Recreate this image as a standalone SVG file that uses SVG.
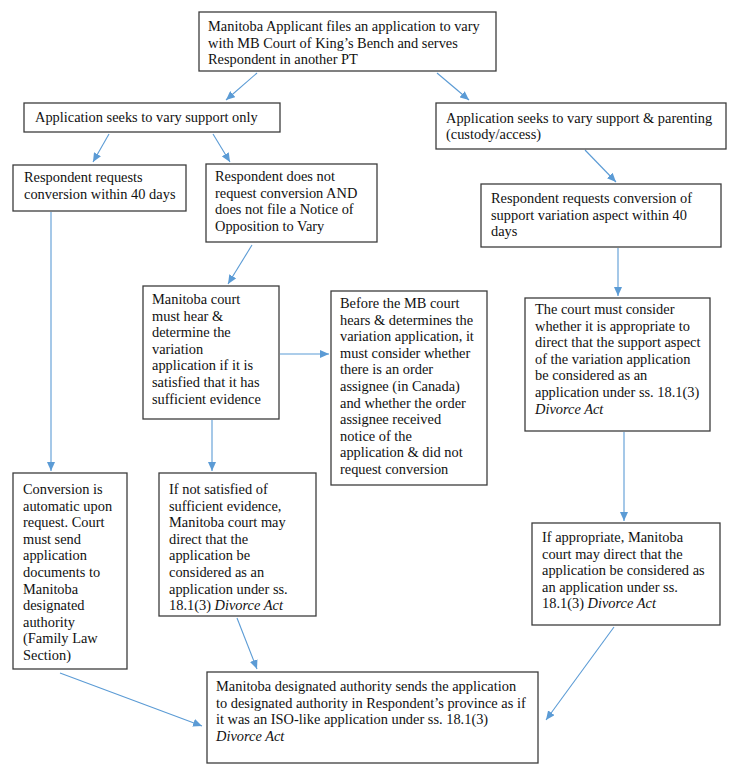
<svg xmlns="http://www.w3.org/2000/svg" width="731" height="775" viewBox="0 0 731 775">
<defs>
<marker id="ah" markerUnits="userSpaceOnUse" markerWidth="10" markerHeight="8" refX="9" refY="4" orient="auto">
<path d="M0,0 L9,4 L0,8 Z" fill="#5b9bd5"/>
</marker>
<style>
rect.box{fill:#ffffff;stroke:#3c3c3c;stroke-width:1.3}
text{font-family:"Liberation Serif","Times New Roman",serif;font-size:14.4px;fill:#111111}
.it{font-style:italic}
#connectors line{stroke:#5b9bd5;stroke-width:1.1;marker-end:url(#ah)}
</style>
</defs>
<rect width="731" height="775" fill="#ffffff"/>
<g id="connectors">
<line x1="257" y1="73" x2="226" y2="100"/>
<line x1="437" y1="73" x2="469" y2="100"/>
<line x1="109" y1="134" x2="93" y2="162"/>
<line x1="213" y1="134" x2="230" y2="162"/>
<line x1="585" y1="150" x2="616" y2="182"/>
<line x1="51" y1="212" x2="51" y2="471"/>
<line x1="252" y1="245" x2="228" y2="284"/>
<line x1="280" y1="354" x2="329" y2="354"/>
<line x1="618" y1="248" x2="618" y2="296"/>
<line x1="212" y1="420" x2="212" y2="471"/>
<line x1="624" y1="432" x2="624" y2="521"/>
<line x1="60" y1="673" x2="202" y2="726"/>
<line x1="237" y1="618" x2="257" y2="669"/>
<line x1="614" y1="627" x2="546" y2="720"/>
</g>
<g id="n-top">
<rect class="box" x="199" y="12" width="297" height="59"/>
<text x="208"><tspan x="208" y="31">Manitoba Applicant files an application to vary</tspan><tspan x="208" y="47.6">with MB Court of King’s Bench and serves</tspan><tspan x="208" y="64.2">Respondent in another PT</tspan></text>
</g>
<g id="n-support-only">
<rect class="box" x="24" y="103" width="256" height="29"/>
<text x="35" y="122">Application seeks to vary support only</text>
</g>
<g id="n-support-parenting">
<rect class="box" x="436" y="103" width="290" height="46"/>
<text><tspan x="446" y="122.5">Application seeks to vary support &amp; parenting</tspan><tspan x="446" y="139">(custody/access)</tspan></text>
</g>
<g id="n-req-conv">
<rect class="box" x="13" y="165" width="173" height="46"/>
<text><tspan x="24" y="182">Respondent requests</tspan><tspan x="24" y="198.6">conversion within 40 days</tspan></text>
</g>
<g id="n-no-req">
<rect class="box" x="206" y="164" width="171" height="78"/>
<text><tspan x="215" y="181">Respondent does not</tspan><tspan x="215" y="197.6">request conversion AND</tspan><tspan x="215" y="214.2">does not file a Notice of</tspan><tspan x="215" y="230.8">Opposition to Vary</tspan></text>
</g>
<g id="n-req-conv-support">
<rect class="box" x="481" y="184" width="240" height="63"/>
<text><tspan x="491" y="203">Respondent requests conversion of</tspan><tspan x="491" y="219.6">support variation aspect within 40</tspan><tspan x="491" y="236.2">days</tspan></text>
</g>
<g id="n-must-hear">
<rect class="box" x="143" y="286" width="136" height="133"/>
<text><tspan x="152" y="304">Manitoba court</tspan><tspan x="152" y="320.6">must hear &amp;</tspan><tspan x="152" y="337.2">determine the</tspan><tspan x="152" y="353.8">variation</tspan><tspan x="152" y="370.4">application if it is</tspan><tspan x="152" y="387">satisfied that it has</tspan><tspan x="152" y="403.6">sufficient evidence</tspan></text>
</g>
<g id="n-before">
<rect class="box" x="331" y="291" width="156" height="194"/>
<text><tspan x="340" y="308">Before the MB court</tspan><tspan x="340" y="324.6">hears &amp; determines the</tspan><tspan x="340" y="341.2">variation application, it</tspan><tspan x="340" y="357.8">must consider whether</tspan><tspan x="340" y="374.4">there is an order</tspan><tspan x="340" y="391">assignee (in Canada)</tspan><tspan x="340" y="407.6">and whether the order</tspan><tspan x="340" y="424.2">assignee received</tspan><tspan x="340" y="440.8">notice of the</tspan><tspan x="340" y="457.4">application &amp; did not</tspan><tspan x="340" y="474">request conversion</tspan></text>
</g>
<g id="n-consider">
<rect class="box" x="525" y="298" width="185" height="133"/>
<text><tspan x="535" y="314">The court must consider</tspan><tspan x="535" y="330.6">whether it is appropriate to</tspan><tspan x="535" y="347.2">direct that the support aspect</tspan><tspan x="535" y="363.8">of the variation application</tspan><tspan x="535" y="380.4">be considered as an</tspan><tspan x="535" y="397">application under ss. 18.1(3)</tspan><tspan x="535" y="413.6" class="it">Divorce Act</tspan></text>
</g>
<g id="n-automatic">
<rect class="box" x="13" y="473" width="114" height="196"/>
<text><tspan x="23" y="494">Conversion is</tspan><tspan x="23" y="510.6">automatic upon</tspan><tspan x="23" y="527.2">request. Court</tspan><tspan x="23" y="543.8">must send</tspan><tspan x="23" y="560.4">application</tspan><tspan x="23" y="577">documents to</tspan><tspan x="23" y="593.6">Manitoba</tspan><tspan x="23" y="610.2">designated</tspan><tspan x="23" y="626.8">authority</tspan><tspan x="23" y="643.4">(Family Law</tspan><tspan x="23" y="660">Section)</tspan></text>
</g>
<g id="n-not-satisfied">
<rect class="box" x="159" y="473" width="157" height="143"/>
<text><tspan x="169" y="494">If not satisfied of</tspan><tspan x="169" y="510.6">sufficient evidence,</tspan><tspan x="169" y="527.2">Manitoba court may</tspan><tspan x="169" y="543.8">direct that the</tspan><tspan x="169" y="560.4">application be</tspan><tspan x="169" y="577">considered as an</tspan><tspan x="169" y="593.6">application under ss.</tspan><tspan x="169" y="610.2">18.1(3) <tspan class="it">Divorce Act</tspan></tspan></text>
</g>
<g id="n-appropriate">
<rect class="box" x="532" y="523" width="188" height="102"/>
<text><tspan x="542" y="542">If appropriate, Manitoba</tspan><tspan x="542" y="558.6">court may direct that the</tspan><tspan x="542" y="575.2">application be considered as</tspan><tspan x="542" y="591.8">an application under ss.</tspan><tspan x="542" y="608.4">18.1(3) <tspan class="it">Divorce Act</tspan></tspan></text>
</g>
<g id="n-sends">
<rect class="box" x="207" y="672" width="331" height="91"/>
<text><tspan x="216" y="691">Manitoba designated authority sends the application</tspan><tspan x="216" y="707.6">to designated authority in Respondent’s province as if</tspan><tspan x="216" y="724.2">it was an ISO-like application under ss. 18.1(3)</tspan><tspan x="216" y="740.8" class="it">Divorce Act</tspan></text>
</g>
</svg>
